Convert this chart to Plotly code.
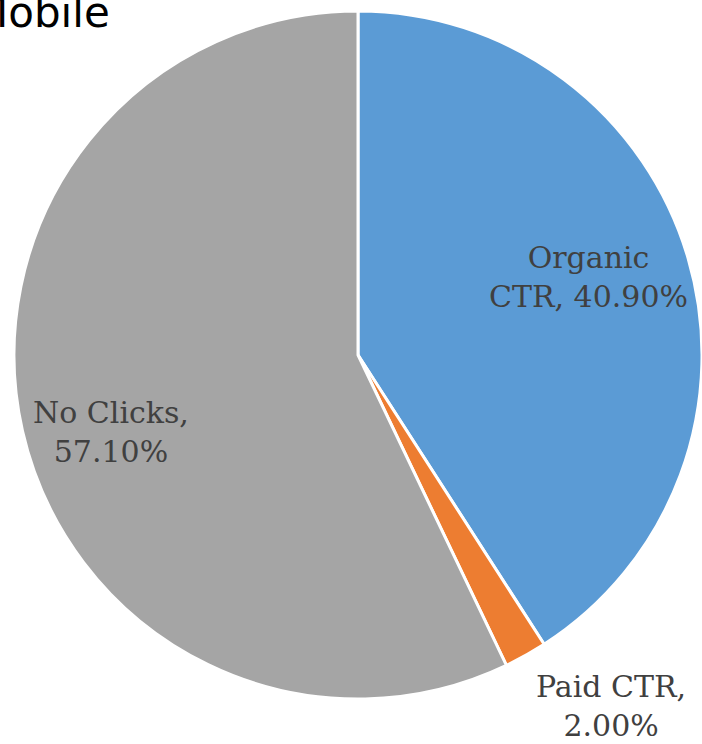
import plotly.graph_objects as go

# Click-through shares on mobile search results
labels = ["Organic CTR", "Paid CTR", "No Clicks"]
values = [40.9, 2.0, 57.1]
colors = ["#5B9BD5", "#ED7D31", "#A5A5A5"]

W, H = 702, 744

fig = go.Figure(
    go.Pie(
        labels=labels,
        values=values,
        sort=False,
        direction="clockwise",
        rotation=0,
        textinfo="none",
        hoverinfo="label+percent",
        marker=dict(colors=colors, line=dict(color="white", width=3)),
        domain=dict(x=[14 / W, 1.0], y=[44 / H, 734 / H]),
        showlegend=False,
    )
)

# Data labels: (text x, text y) centres in pixels from the top-left
label_pos = {
    "Organic CTR": (588, 277),
    "Paid CTR": (611, 706),
    "No Clicks": (111, 432),
}
label_lines = {
    "Organic CTR": ("Organic", "CTR, "),
    "Paid CTR": ("Paid CTR,", ""),
    "No Clicks": ("No Clicks,", ""),
}

annotations = []
for lab, val in zip(labels, values):
    first, prefix = label_lines[lab]
    text = f"{first}<br>{prefix}{val:.2f}%"
    px, py = label_pos[lab]
    annotations.append(
        dict(
            x=px / W, y=1 - py / H, xref="paper", yref="paper",
            text=text, showarrow=False, align="center",
            xanchor="center", yanchor="middle",
            font=dict(family="DejaVu Serif", size=30, color="#404040"),
        )
    )

annotations.append(
    dict(
        x=-30 / W, y=1 + 14 / H, xref="paper", yref="paper",
        text="Mobile", showarrow=False,
        xanchor="left", yanchor="top",
        font=dict(family="DejaVu Sans", size=42, color="#000000"),
    )
)

fig.update_layout(
    width=W, height=H,
    margin=dict(l=0, r=0, t=0, b=0),
    paper_bgcolor="white",
    plot_bgcolor="white",
    annotations=annotations,
)

fig.write_html("out.html")
